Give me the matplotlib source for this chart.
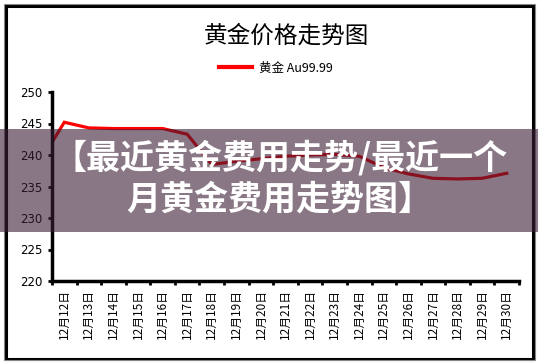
import numpy as np
import matplotlib.pyplot as plt
from matplotlib.patches import Rectangle
from matplotlib.lines import Line2D

plt.rcParams['font.family'] = ['Noto Sans CJK SC', 'DejaVu Sans']

# 数据
days = ['12月12日', '12月13日', '12月14日', '12月15日', '12月16日', '12月17日',
        '12月18日', '12月19日', '12月20日', '12月21日', '12月22日', '12月23日',
        '12月24日', '12月25日', '12月26日', '12月27日', '12月28日', '12月29日',
        '12月30日']
prices = [245.2, 244.3, 244.2, 244.2, 244.2, 243.3, 238.5, 239.0, 239.4, 239.8,
          240.0, 240.1, 239.8, 238.0, 237.0, 236.3, 236.2, 236.3, 237.1]
start_price = 242.0  # 图表左边缘的起始值
yticks = [220, 225, 230, 235, 240, 245, 250]

W, H = 538, 362
fig = plt.figure(figsize=(W / 100, H / 100), dpi=100)
fig.patch.set_facecolor('white')

# 外框
fig.patches.append(Rectangle((6 / W, 3 / H), 527 / W, 353 / H, transform=fig.transFigure,
                             fill=False, edgecolor='black', linewidth=2.2, zorder=0))
fig.patches.append(Rectangle((4 / W, 2 / H), 531 / W, 356 / H, transform=fig.transFigure,
                             fill=False, edgecolor='#888888', linewidth=0.8, zorder=0))

ax = fig.add_axes([52 / W, 1 - 281 / H, 467 / W, 189 / H])
x = np.concatenate([[-0.5], np.arange(len(days))])
y = np.concatenate([[start_price], prices])
ax.plot(x, y, color='#ff0000', linewidth=2.3, solid_joinstyle='miter')

ax.set_xlim(-0.5, len(days) - 0.5)
ax.set_ylim(220, 250)
ax.set_yticks(yticks)
ax.set_yticklabels([str(v) for v in yticks], fontsize=8.5, family='DejaVu Sans')
ax.set_xticks(np.arange(len(days)))
ax.set_xticklabels(days, rotation=90, fontsize=8.5)
ax.set_xticks(np.arange(len(days) + 1) - 0.5, minor=True)
ax.tick_params(axis='x', which='major', length=0, pad=6)
ax.tick_params(axis='x', which='minor', length=3, width=2, direction='out')
ax.tick_params(axis='y', length=3, width=2, direction='out', pad=4)
for s in ['top', 'right']:
    ax.spines[s].set_visible(False)
for s in ['left', 'bottom']:
    ax.spines[s].set_linewidth(2.5)

fig.text(286 / W, 1 - 36 / H, '黄金价格走势图', ha='center', va='center', fontsize=17)
handle = Line2D([], [], color='#ff0000', linewidth=3)
fig.legend([handle], ['黄金 Au99.99'], loc='center', bbox_to_anchor=(276 / W, 1 - 68 / H),
           frameon=False, fontsize=9, handlelength=2.6, handletextpad=0.6)

# 半透明横幅
fig.patches.append(Rectangle((0, 1 - 232 / H), 1, 103 / H, transform=fig.transFigure,
                             facecolor='#3a1d34', alpha=0.6, edgecolor='none', zorder=5))
fig.text(280 / W, 1 - 158 / H, '【最近黄金费用走势/最近一个', ha='center', va='center',
         fontsize=24.5, fontweight='bold', color='white', zorder=6)
fig.text(279 / W, 1 - 199 / H, '月黄金费用走势图】', ha='center', va='center',
         fontsize=24.5, fontweight='bold', color='white', zorder=6)

fig.savefig('out.png', dpi=100)
